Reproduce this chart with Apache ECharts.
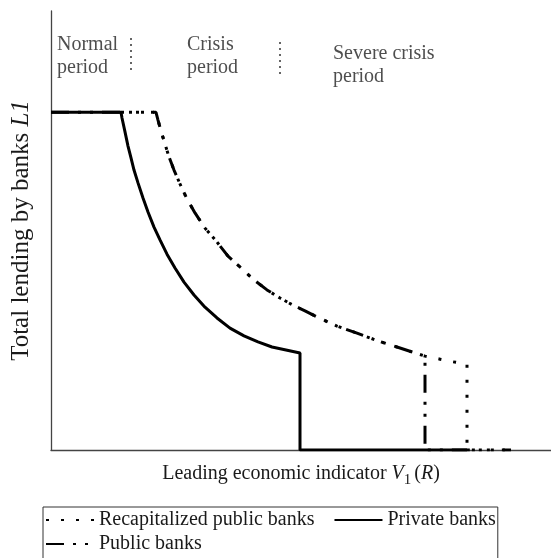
<!DOCTYPE html>
<html>
<head>
<meta charset="utf-8">
<script src="https://cdn.jsdelivr.net/npm/echarts@6/dist/echarts.min.js"></script>
<style>
  html, body {margin: 0; padding: 0; background: #fff;}
  #chart {width: 551px; height: 558px;}
</style>
</head>
<body>
<div id="chart"></div>
<script>
// lending level (flat = 100) against the leading indicator (0..100)
var privateBanks = [
  [0, 100], [14, 100], [14.2, 98.3], [14.8, 94.2], [15.4, 90.0], [16.0, 86.5],
  [16.6, 82.9], [17.4, 79.1], [18.4, 74.6], [19.4, 70.5], [20.6, 66.0],
  [21.8, 62.2], [23.2, 58.0], [24.8, 53.9], [26.6, 49.7], [28.6, 45.9],
  [30.8, 42.3], [33.2, 39.1], [35.8, 36.1], [38.6, 33.8], [41.4, 32.0],
  [44.2, 30.5], [47.0, 29.6], [49.8, 28.7], [49.8, 0], [83.2, 0]
];
var publicBanks = [
  [0, 100], [21, 100], [21.4, 97.7], [22, 94.5], [22.8, 90.6], [23.6, 86.8],
  [24.6, 82.9], [25.8, 78.8], [27.2, 74.3], [28.8, 70.2], [30.8, 65.7],
  [33.2, 61.6], [35.4, 57.4], [37.8, 54.2], [40.4, 50.6], [43.2, 47.4],
  [45.8, 45.0], [48.4, 42.9], [50.8, 41.2], [53.2, 39.4], [57.2, 36.7],
  [61.2, 34.6], [65.4, 32.3], [69.8, 30.2], [74.8, 27.8], [74.8, 0], [92, 0]
];
var recapBanks = [
  [14, 100], [21, 100], [21.4, 97.7], [22, 94.5], [22.8, 90.6], [23.6, 86.8],
  [24.6, 82.9], [25.8, 78.8], [27.2, 74.3], [28.8, 70.2], [30.8, 65.7],
  [33.2, 61.6], [35.4, 57.4], [37.8, 54.2], [40.4, 50.6], [43.2, 47.4],
  [45.8, 45.0], [48.4, 42.9], [50.8, 41.2], [53.2, 39.4], [57.2, 36.7],
  [61.2, 34.6], [65.4, 32.3], [69.8, 30.2], [74.8, 27.8], [77.8, 26.9],
  [80.4, 26.1], [83.2, 25.5], [83.2, 0], [92, 0]
];
var periodLabels = ['Normal\nperiod', 'Crisis\nperiod', 'Severe crisis\nperiod'];
var periodLabelPos = [[1.2, 123.4], [27.2, 123.4], [56.4, 120.8]];
var periodBounds = [[16, 122, 112], [45.8, 120.8, 110.5]];

var seriesNames = ['Recapitalized public banks', 'Private banks', 'Public banks'];

var chart = echarts.init(document.getElementById('chart'));
var serif = 'Liberation Serif';
var ink = '#1a1a1a';

function curve(name, data, dash, z) {
  return {
    name: name, type: 'line', data: data, symbol: 'none',
    itemStyle: {color: '#000'},
    lineStyle: {color: '#000', width: 3, type: dash}, z: z
  };
}

var option = {
  animation: false,
  grid: {left: 51, right: 0, top: 11, bottom: 108},
  xAxis: {
    type: 'value', min: 0, max: 100,
    axisLine: {lineStyle: {color: '#444', width: 1.3}},
    axisTick: {show: false}, axisLabel: {show: false}, splitLine: {show: false},
    name: 'Leading economic indicator {i|V}{s|1}{n|(}{i|R}{n|)}',
    nameLocation: 'middle', nameGap: 10,
    nameTextStyle: {
      fontFamily: serif, fontSize: 20, color: ink, verticalAlign: 'top',
      rich: {
        i: {fontFamily: serif, fontSize: 20, fontStyle: 'italic', color: ink},
        s: {fontFamily: serif, fontSize: 15, color: ink, padding: [13, 3, 0, 0]},
        n: {fontFamily: serif, fontSize: 20, color: ink}
      }
    }
  },
  yAxis: {
    type: 'value', min: 0, max: 130,
    axisLine: {show: true, lineStyle: {color: '#444', width: 1.3}},
    axisTick: {show: false}, axisLabel: {show: false}, splitLine: {show: false},
    name: 'Total lending by banks {i|L1}',
    nameLocation: 'middle', nameGap: 17,
    nameTextStyle: {
      fontFamily: serif, fontSize: 25, color: ink,
      rich: {
        i: {fontFamily: serif, fontSize: 25, fontStyle: 'italic', color: ink}
      }
    }
  },
  legend: {
    data: seriesNames,
    formatter: function (name) {
      // a wider gap after the first entry, as in the original box
      return name === seriesNames[0] ? name + '   ' : name;
    },
    left: 43, top: 507, width: 478,
    orient: 'horizontal',
    borderColor: '#333', borderWidth: 1,
    padding: [3, 2, 30, 2],
    itemWidth: 48, itemHeight: 14, itemGap: 4,
    itemStyle: {opacity: 0},
    textStyle: {fontFamily: serif, fontSize: 20, color: ink}
  },
  series: [
    curve(seriesNames[0], recapBanks, [3, 12], 3),
    curve(seriesNames[1], privateBanks, 'solid', 4),
    curve(seriesNames[2], publicBanks, [18, 9, 3, 9, 3, 9], 3),
    {
      name: 'periods', type: 'scatter', symbolSize: 0, silent: true,
      data: periodLabelPos.map(function (p, i) {
        return {value: p, name: periodLabels[i]};
      }),
      label: {
        show: true, position: [0, 0], align: 'left', verticalAlign: 'top',
        formatter: function (p) { return p.name; },
        fontFamily: serif, fontSize: 20, lineHeight: 23, color: '#222'
      },
      markLine: {
        silent: true, symbol: 'none', label: {show: false},
        lineStyle: {color: '#333', width: 1.5, type: [2, 4]},
        data: periodBounds.map(function (b) {
          return [{coord: [b[0], b[1]]}, {coord: [b[0], b[2]]}];
        })
      }
    }
  ]
};
chart.setOption(option);
</script>
</body>
</html>
